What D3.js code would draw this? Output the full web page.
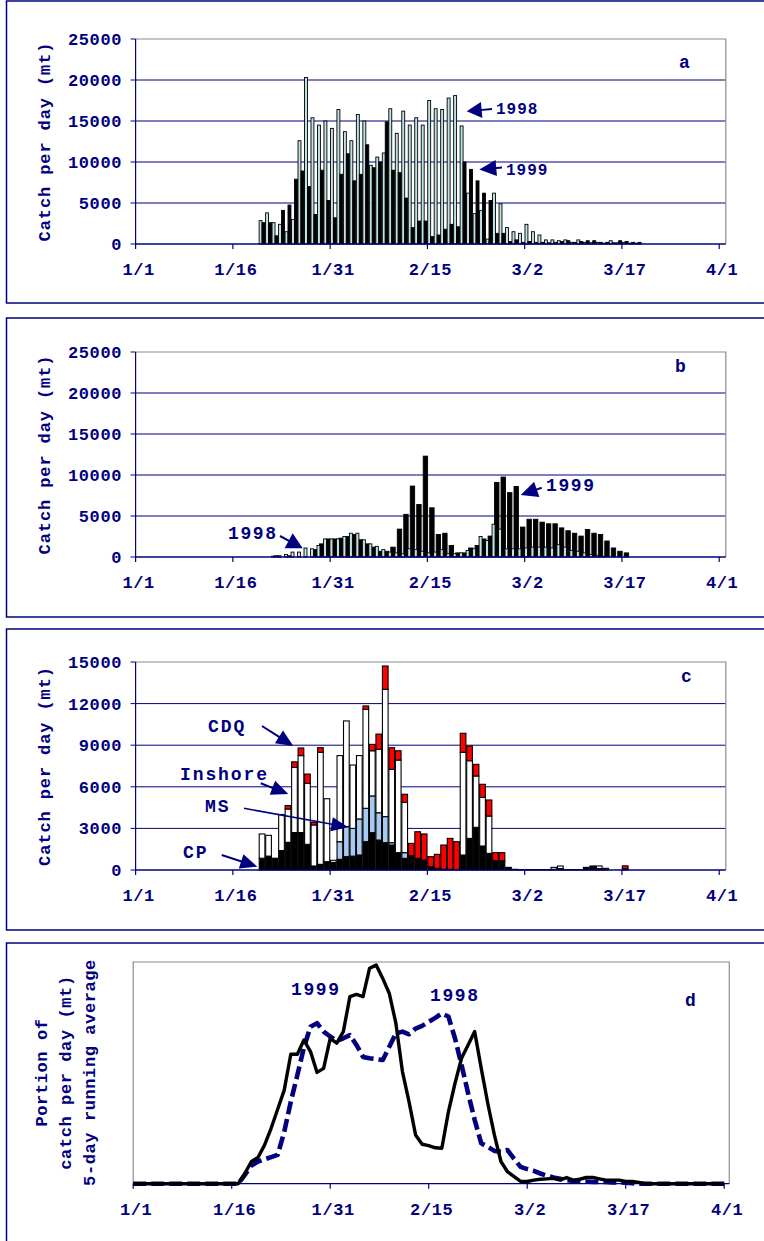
<!DOCTYPE html>
<html><head><meta charset="utf-8">
<script src="https://cdn.jsdelivr.net/npm/d3@7"></script>
<style>
body{margin:0;background:#fff}
svg{display:block}
text{font-family:"Liberation Mono","DejaVu Sans Mono",monospace;font-weight:bold;fill:#000080}
</style>
</head><body>
<svg id="chart" width="764" height="1241"></svg>
<script>
// ---------------- DATA ----------------
const tickDays   = [0, 15, 30, 45, 60, 75, 90];
const tickLabels = ["1/1", "1/16", "1/31", "2/15", "3/2", "3/17", "4/1"];
const abTicks = [0, 5000, 10000, 15000, 20000, 25000];
const cTicks  = [0, 3000, 6000, 9000, 12000, 15000];

// panels a & b: daily catch, first value = day index 19 (Jan 20)
const firstDay = 19;
const a1998 = [2850,3800,2600,2400,1500,3000,12600,20300,15400,14500,15000,14100,16400,13700,12600,15800,15000,9600,10600,11100,16500,13500,16200,14500,15400,14500,17500,16500,16400,17800,18100,14400,6200,3700,4100,600,6200,4900,2000,1500,1300,2400,1500,1100,500,500,400,500,200,500,200,150,200,100,400,150,200,100,100,0];
const a1999 = [2600,2600,1000,4100,4750,7900,8900,7000,3600,9000,5300,3200,8500,11000,7700,8500,12100,9300,10000,14900,9000,8700,5600,2000,2800,2800,900,1100,1800,2400,2100,10000,9100,7700,6200,5300,1300,1300,300,500,200,300,200,200,150,200,300,400,200,300,400,400,200,200,150,400,300,200,200,0];
const b1998 = [0,0,100,150,300,600,600,1100,1000,1400,2200,2200,2200,2500,2900,2900,2100,1600,1300,900,600,500,400,1000,900,700,500,600,900,400,400,500,800,1000,2500,2000,4000,3400,1000,1000,1000,1100,1200,1200,1200,1100,1500,1200,800,700,500,300,200,100,0,0,0,0,0,0];
const b1999 = [0,0,150,0,150,0,0,0,900,1600,2200,2200,2300,2500,2750,2100,1600,1200,700,700,1200,3400,5200,8650,6400,12300,6000,2750,2900,1400,500,500,1100,1400,2200,2550,9100,9750,7850,8600,3650,4600,4600,4250,4050,4050,3550,3200,2900,2550,3350,2900,2750,1950,1100,700,500,0,0,0];

// panel c: 1999 catch by sector, first value = day index 19
const cCP      = [850,1000,850,1400,2000,2700,2700,1850,290,410,600,550,770,960,1000,1080,2040,2690,2160,1970,1800,1250,840,1030,840,720,240,120,50,50,0,1080,2280,3080,1730,1200,670,670,190,50,30,30,30,30,30,50,100,30,30,30,190,290,100,0,0,0,100];
const cMS      = [0,0,0,0,0,0,0,0,0,0,0,0,1270,2170,2000,2600,2410,2650,1970,1880,170,0,410,0,0,0,0,0,0,0,0,0,0,0,0,0,0,0,0,0,0,0,0,0,0,0,0,0,0,0,0,0,0,0,0,0,0];
const cInshore = [1750,1500,0,2600,2400,4700,5550,4400,2960,8080,4540,150,6210,7620,4570,4570,7140,3260,4570,9180,5290,6680,3630,0,0,0,0,0,0,0,0,7410,5600,3700,3510,2690,0,0,0,0,0,0,0,0,0,140,190,0,0,0,0,0,190,0,0,0,0];
const cCDQ     = [0,0,0,0,250,400,550,670,190,330,0,0,0,0,0,0,240,460,1100,1680,1560,670,580,890,1920,1880,720,1010,1750,2230,2040,1370,1060,840,940,1160,580,580,0,0,0,0,0,0,0,0,0,0,0,0,0,0,0,120,0,0,200];
const cSeries  = ["CP", "MS", "Inshore", "CDQ"];
const cColors  = ["#000000", "#a6caf0", "#ffffff", "#ff0000"];

// panel d: portion of season catch per day (%), 5-day running average, day 0..90
const d1999 = [0,0,0,0,0,0,0,0,0,0,0,0,0,0,0,0,0,0.23,0.50,0.59,0.87,1.25,1.68,2.11,2.92,2.92,3.24,2.98,2.51,2.60,3.28,3.17,3.43,4.22,4.27,4.22,4.86,4.93,4.63,4.29,3.62,2.53,1.85,1.10,0.89,0.86,0.81,0.80,1.62,2.26,2.83,3.13,3.43,2.60,1.81,1.10,0.50,0.27,0.16,0.05,0.05,0.08,0.10,0.11,0.12,0.08,0.14,0.08,0.10,0.14,0.14,0.11,0.08,0.08,0.08,0.05,0.05,0.03,0,0,0,0,0,0,0,0,0,0,0,0,0];
const d1998 = [0,0,0,0,0,0,0,0,0,0,0,0,0,0,0,0,0,0.20,0.41,0.50,0.55,0.60,0.65,1.17,1.85,2.45,3.07,3.54,3.62,3.43,3.32,3.22,3.28,3.35,3.13,2.86,2.83,2.81,2.79,3.09,3.39,3.43,3.37,3.50,3.56,3.65,3.74,3.84,3.77,3.28,2.68,2.04,1.44,0.91,0.83,0.74,0.72,0.76,0.56,0.38,0.33,0.29,0.23,0.18,0.14,0.11,0.08,0.06,0.05,0.05,0.04,0.04,0.04,0.03,0.03,0.02,0.01,0,0,0,0,0,0,0,0,0,0,0,0,0,0];

// ---------------- DRAW ----------------
const NAVY = "#000080";
const svg = d3.select("#chart");
const xBar = d3.scaleLinear().domain([0, 91]).range([135.6, 725.7]);
const PL = 135.6, PR = 725.8;

function box(y0, y1) {
  svg.append("rect").attr("x", 6.5).attr("y", y0).attr("width", 800).attr("height", y1 - y0)
    .attr("fill", "none").attr("stroke", NAVY).attr("stroke-width", 1.5);
}
box(1, 303); box(318, 617); box(629, 930); box(943, 1270);

function yTitle(x, yc, txt) {
  svg.append("text").attr("transform", `translate(${x},${yc}) rotate(-90)`)
    .attr("text-anchor", "middle").style("font-size", "17px").style("letter-spacing", "0.9px").text(txt);
}

function barFrame(y, ticks, letter, letterPos) {
  const top = y(ticks[ticks.length - 1]), bot = y(0);
  const g = svg.append("g");
  g.selectAll(".grid").data(ticks.slice(1, -1)).join("line")
    .attr("x1", PL).attr("x2", PR).attr("y1", d => y(d)).attr("y2", d => y(d))
    .attr("stroke", NAVY).attr("stroke-width", 1);
  g.append("path").attr("d", `M${PL},${top}H${PR}V${bot}`).attr("fill", "none").attr("stroke", "#8c8c8c").attr("stroke-width", 1.2);
  g.append("line").attr("x1", PL).attr("x2", PL).attr("y1", top).attr("y2", bot).attr("stroke", NAVY).attr("stroke-width", 1.2);
  g.selectAll(".yt").data(ticks).join("line")
    .attr("x1", PL - 5).attr("x2", PL).attr("y1", d => y(d)).attr("y2", d => y(d)).attr("stroke", NAVY);
  g.selectAll(".yl").data(ticks).join("text")
    .attr("x", 122).attr("y", d => y(d) + 6).attr("text-anchor", "end")
    .style("font-size", "17px").style("letter-spacing", "0.6px").text(d => d);
  svg.append("text").attr("x", letterPos[0]).attr("y", letterPos[1]).style("font-size", "18px").text(letter);
  return g;
}

function xAxis(scale, yAxis, x0, x1) {
  const g = svg.append("g");
  g.append("line").attr("x1", x0).attr("x2", x1).attr("y1", yAxis).attr("y2", yAxis).attr("stroke", NAVY).attr("stroke-width", 1.3);
  g.selectAll(".xt").data(tickDays).join("line")
    .attr("x1", d => scale(d)).attr("x2", d => scale(d)).attr("y1", yAxis).attr("y2", yAxis + 5).attr("stroke", NAVY).attr("stroke-width", 1.2);
  g.selectAll(".xl").data(tickDays).join("text")
    .attr("x", d => scale(d) + 3).attr("y", yAxis + 31).attr("text-anchor", "middle")
    .style("font-size", "17px").style("letter-spacing", "0.6px").text((d, i) => tickLabels[i]);
}

function arrow(x1, y1, x2, y2, hl, hw, sw) {
  const dx = x2 - x1, dy = y2 - y1, L = Math.hypot(dx, dy), ux = dx / L, uy = dy / L;
  const bx = x2 - ux * hl, by = y2 - uy * hl;
  svg.append("line").attr("x1", x1).attr("y1", y1).attr("x2", bx + ux * 2).attr("y2", by + uy * 2)
    .attr("stroke", NAVY).attr("stroke-width", sw);
  svg.append("path").attr("d", `M${x2},${y2}L${bx - uy * hw / 2},${by + ux * hw / 2}L${bx + uy * hw / 2},${by - ux * hw / 2}Z`)
    .attr("fill", NAVY);
}
function label(x, y, txt, size, ls) {
  svg.append("text").attr("x", x).attr("y", y).style("font-size", size + "px").style("letter-spacing", ls + "px").text(txt);
}

// ---- panel a ----
const yA = d3.scaleLinear().domain([0, 25000]).range([244, 39]);
barFrame(yA, abTicks, "a", [679, 68]);
yTitle(50, 141.5, "Catch per day (mt)");
const aRows = a1998.map((v, i) => ({ day: firstDay + i, v98: v, v99: a1999[i] }));
svg.append("g").selectAll("rect").data(aRows.filter(d => d.v98 > 0)).join("rect")
  .attr("x", d => xBar(d.day) + 0.3).attr("width", d => xBar(d.day + 0.5) - xBar(d.day) - 0.3)
  .attr("y", d => yA(d.v98)).attr("height", d => yA(0) - yA(d.v98))
  .attr("fill", "#bfe3e3").attr("stroke", "#000").attr("stroke-width", 0.9);
svg.append("g").selectAll("rect").data(aRows.filter(d => d.v99 > 0)).join("rect")
  .attr("x", d => xBar(d.day + 0.5)).attr("width", d => xBar(d.day + 1) - xBar(d.day + 0.5) - 0.3)
  .attr("y", d => yA(d.v99)).attr("height", d => yA(0) - yA(d.v99))
  .attr("fill", "#000").attr("stroke", "#000").attr("stroke-width", 0.9);
xAxis(xBar, 244, PL, PR);
arrow(492, 109, 466.7, 111.3, 15, 16, 2);
label(496, 113.5, "1998", 16, 1.0);
arrow(502, 167.5, 479.3, 169.5, 17, 16, 2);
label(506, 175, "1999", 16, 1.0);

// ---- panel b ----
const yB = d3.scaleLinear().domain([0, 25000]).range([557, 352]);
barFrame(yB, abTicks, "b", [675, 372]);
yTitle(50, 454.5, "Catch per day (mt)");
const bRows = b1998.map((v, i) => ({ day: firstDay + i, v98: v, v99: b1999[i] }));
svg.append("g").selectAll("rect").data(bRows.filter(d => d.v99 > 0)).join("rect")
  .attr("x", d => xBar(d.day) + 2.3).attr("width", 4.4)
  .attr("y", d => yB(d.v99)).attr("height", d => yB(0) - yB(d.v99))
  .attr("fill", "#000").attr("stroke", "#000").attr("stroke-width", 0.9);
svg.append("g").selectAll("rect").data(bRows.filter(d => d.v98 > 0)).join("rect")
  .attr("x", d => xBar(d.day) - 0.2).attr("width", 3.0)
  .attr("y", d => yB(d.v98)).attr("height", d => yB(0) - yB(d.v98))
  .attr("fill", "#bfe3e3").attr("stroke", "#000").attr("stroke-width", 0.9);
xAxis(xBar, 557, PL, PR);
arrow(280, 536, 302.7, 548.3, 16, 17, 2);
label(228, 539, "1998", 18, 1.6);
arrow(541.7, 487.7, 520.7, 495, 17, 16, 2);
label(546, 491, "1999", 18, 1.6);

// ---- panel c ----
const yC = d3.scaleLinear().domain([0, 15000]).range([870, 662]);
barFrame(yC, cTicks, "c", [681, 682]);
yTitle(50, 766, "Catch per day (mt)");
const cRows = cCP.map((v, i) => ({ day: firstDay + i, CP: v, MS: cMS[i], Inshore: cInshore[i], CDQ: cCDQ[i] }));
const stack = d3.stack().keys(cSeries)(cRows);
stack.forEach((layer, k) => {
  svg.append("g").selectAll("rect").data(layer.filter(s => s[1] - s[0] > 0)).join("rect")
    .attr("x", s => xBar(s.data.day) + 0.4).attr("width", s => xBar(s.data.day + 1) - xBar(s.data.day) - 0.8)
    .attr("y", s => yC(s[1])).attr("height", s => yC(s[0]) - yC(s[1]))
    .attr("fill", cColors[k]).attr("stroke", "#000").attr("stroke-width", 1.1);
});
xAxis(xBar, 870, PL, PR);
label(208, 732, "CDQ", 18, 1.9);
arrow(262, 726, 293.3, 746, 17, 15, 2);
label(180, 780, "Inshore", 18, 1.9);
arrow(260.7, 783.3, 288.3, 794, 17, 15, 2);
label(205, 812.3, "MS", 18, 1.9);
arrow(244, 808.3, 348.3, 827.3, 17, 14, 1.5);
label(183, 858.3, "CP", 18, 1.9);
arrow(221.7, 855, 257.3, 866.7, 17, 15, 2);

// ---- panel d ----
const xD = d3.scaleLinear().domain([0, 90]).range([133.2, 724.2]);
const yD = d3.scaleLinear().domain([0, 5]).range([1183.7, 962]);
svg.append("path").attr("d", `M133.2,1183.7V962H729.3V1183.7`).attr("fill", "none").attr("stroke", "#8c8c8c").attr("stroke-width", 1.2);
xAxis(xD, 1183.7, 133.2, 729.3);
const line = d3.line().x((v, i) => xD(i)).y(v => yD(v));
svg.append("path").attr("d", line(d1998)).attr("fill", "none").attr("stroke", NAVY)
  .attr("stroke-width", 4.6).attr("stroke-dasharray", "13,5").attr("stroke-linejoin", "round");
svg.append("path").attr("d", line(d1999)).attr("fill", "none").attr("stroke", "#000")
  .attr("stroke-width", 3.4).attr("stroke-linejoin", "round");
label(291, 995, "1999", 18, 1.6);
label(430, 1000.5, "1998", 18, 1.6);
svg.append("text").attr("x", 685).attr("y", 1005.5).style("font-size", "18px").text("d");
[["Portion of", 47], ["catch per day (mt)", 71], ["5-day running average", 95]].forEach(([t, x]) => {
  svg.append("text").attr("transform", `translate(${x},1072.5) rotate(-90)`).attr("text-anchor", "middle")
    .style("font-size", "17px").style("letter-spacing", "0.6px").text(t);
});
</script>
</body></html>
